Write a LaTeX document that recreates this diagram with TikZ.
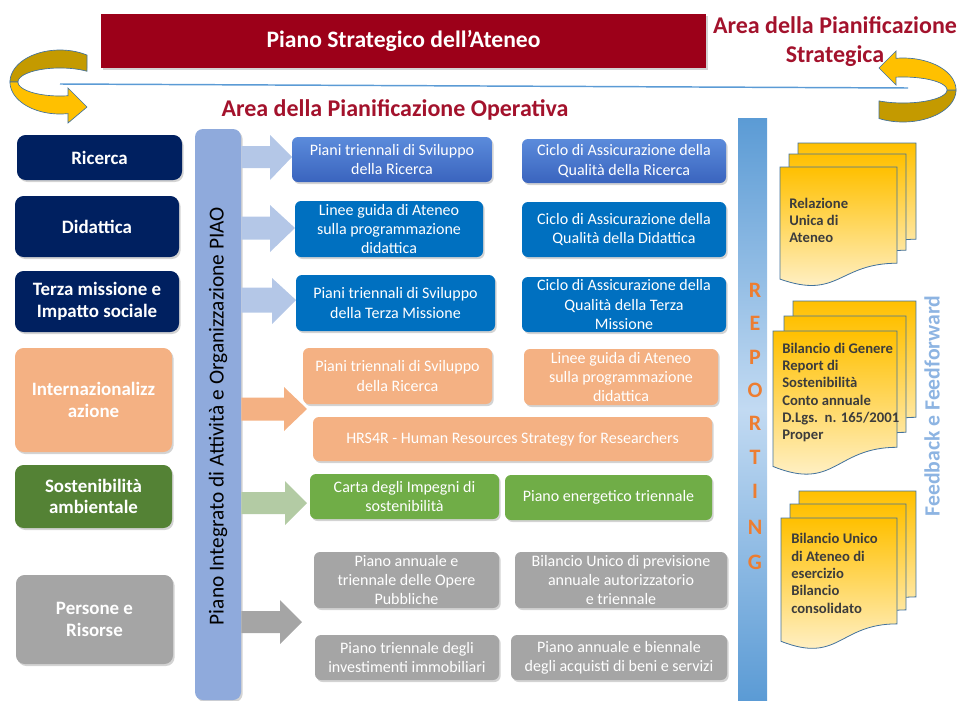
\documentclass[tikz,border=0pt]{standalone}
\usepackage{fontspec}
\setmainfont{Carlito}
\usetikzlibrary{shadows}
\definecolor{navyc}{HTML}{002060}
\definecolor{salmon}{HTML}{F4B183}
\definecolor{dgreen}{HTML}{548235}
\definecolor{lgreen}{HTML}{70AD47}
\definecolor{grayc}{HTML}{A5A5A5}
\definecolor{blue1t}{HTML}{5B8BDB}
\definecolor{blue1b}{HTML}{3A64BE}
\definecolor{blue2}{HTML}{0070C0}
\definecolor{piaoc}{HTML}{8FAADC}
\definecolor{arrblue}{HTML}{B4C7E7}
\definecolor{arrgreen}{HTML}{B3CBA4}
\definecolor{redbox}{HTML}{9C0019}
\definecolor{redtext}{HTML}{A3122C}
\definecolor{linec}{HTML}{5B9BD5}
\definecolor{goldb}{HTML}{FFC000}
\definecolor{goldd}{HTML}{C49A00}
\definecolor{outl}{HTML}{41719C}
\definecolor{repc}{HTML}{ED7D31}
\definecolor{repbar}{HTML}{5B9BD5}
\definecolor{repmid}{HTML}{C2DAF2}
\definecolor{fbc}{HTML}{8DB4E2}
\definecolor{doctext}{HTML}{3C3C3C}
\definecolor{docbot}{HTML}{FFF5DA}
\newcommand\rbox[7]{\node[#1, minimum width={(#5-#3)*0.75pt}, minimum height={(#6-#4)*0.75pt}] (#2) at ({(#3+#5)/2},{(#4+#6)/2}) {#7};}
\newcommand\barrow[7]{\fill[#1] (piao.east |- 0,{#2-#3}) -- (#6,{#2-#3}) -- (#6,#4) -- (#7,#2) -- (#6,#5) -- (#6,{#2+#3}) -- (piao.east |- 0,{#2+#3}) -- cycle;}
\newcommand\docsh[4]{\path[docstyle] (#1,#2) -- ({#1+#3},#2) -- ({#1+#3},{#2+0.802*#4}) .. controls ({#1+#3/2},{#2+0.802*#4}) and ({#1+#3/2},{#2+1.1075*#4}) .. (#1,{#2+0.934*#4}) -- cycle;}
\tikzset{
  base/.style={rounded corners=4.5pt, inner sep=0pt, align=center, text=white,
    drop shadow={opacity=0.35, shadow xshift=1.2pt, shadow yshift=-1.5pt}},
  lbox/.style={base, rounded corners=6.5pt, font=\bfseries\fontsize{14.2}{16.3}\selectfont},
  mbox/.style={base, font=\fontsize{12}{14.4}\selectfont},
  docstyle/.style={draw=outl, line width=0.6pt, top color=goldb, bottom color=docbot},
  doctxt/.style={anchor=west, align=left, inner sep=0pt, text=doctext, font=\bfseries\fontsize{11}{13}\selectfont},
  reptxt/.style={inner sep=0pt, text=repc, font=\bfseries\fontsize{16.5}{16.5}\selectfont},
  redtitle/.style={inner sep=0pt, align=center, text=redtext, font=\bfseries\fontsize{18}{21.75}\selectfont},
  arrowline/.style={draw=outl, line width=0.5pt},
}
\begin{document}
\begin{tikzpicture}[x=0.75pt,y=-0.75pt]
\useasboundingbox (0,0) rectangle (957,700);
% title
\rbox{base, rounded corners=0pt, fill=redbox, font=\bfseries\fontsize{17.7}{20}\selectfont}{title}{101}{14}{706}{68}{Piano Strategico dell’Ateneo}
\node[redtitle] (areastrat) at (835,42) {Area della Pianificazione\\Strategica};
% blue line
\coordinate (lineL) at (60,84);
\coordinate (lineR) at (908,88);
\draw[linec, line width=1.1pt] (lineL) -- (lineR);
\node[redtitle] (areaop) at (395,110) {Area della Pianificazione Operativa};
% left curved arrow
\path[arrowline, fill=goldd] plot[domain=-57.3:-180, samples=40] ({60+50*cos(\x)},{82+32*sin(\x)})
  -- plot[domain=-180:-50, samples=40] ({60+42*cos(\x)},{82+14*sin(\x)}) -- cycle;
\path[arrowline, fill=goldb] plot[domain=180:80.8, samples=40] ({60+50*cos(\x)},{82+32*sin(\x)})
  -- (68,123) -- (87,107) -- (68,88)
  -- plot[domain=79:180, samples=40] ({60+42*cos(\x)},{82+14*sin(\x)}) -- cycle;
% right curved arrow
\path[arrowline, fill=goldd] plot[domain=0:116.9, samples=40] ({903+53*cos(\x)},{90+32*sin(\x)})
  -- plot[domain=123:0, samples=40] ({903+44*cos(\x)},{90+13*sin(\x)}) -- cycle;
\path[arrowline, fill=goldb] plot[domain=0:-97.6, samples=40] ({903+53*cos(\x)},{90+32*sin(\x)})
  -- (896,51) -- (879,68) -- (896,85)
  -- plot[domain=-99.2:0, samples=40] ({903+44*cos(\x)},{90+13*sin(\x)}) -- cycle;
% left column
\rbox{lbox, fill=navyc}{ricerca}{17}{135}{182}{180}{Ricerca}
\rbox{lbox, fill=navyc}{didattica}{15}{196}{179}{257}{Didattica}
\rbox{lbox, fill=navyc}{terza}{15}{271}{179}{332}{Terza missione e\\Impatto sociale}
\rbox{lbox, fill=salmon}{intern}{15}{348}{172}{452}{Internazionalizz\\azione}
\rbox{lbox, fill=dgreen}{sost}{15}{465}{172}{528}{Sostenibilità\\ambientale}
\rbox{lbox, fill=grayc}{persone}{16}{575}{173}{664}{Persone e\\Risorse}
% PIAO bar
\rbox{base, rounded corners=6pt, fill=piaoc}{piao}{195}{129}{241}{700}{}
\node[rotate=90, inner sep=0pt, font=\fontsize{16}{16}\selectfont] (piaotext) at (218,416) {Piano Integrato di Attività e Organizzazione PIAO};
% block arrows
\barrow{arrblue}{157}{11}{135}{180}{270}{292}
\barrow{arrblue}{228}{11.5}{205}{252}{270}{295}
\barrow{arrblue}{300}{12.5}{278}{324}{272}{296}
\barrow{salmon}{409}{11.5}{387}{431}{284}{307}
\barrow{arrgreen}{503}{11}{481}{525}{285}{307}
\barrow{grayc}{622}{11}{600}{644}{280}{302}
% middle boxes
\rbox{mbox, top color=blue1t, bottom color=blue1b}{m1a}{292}{137}{492}{182}{Piani triennali di Sviluppo\\della Ricerca}
\rbox{mbox, top color=blue1t, bottom color=blue1b}{m1b}{522}{139}{726}{183}{Ciclo di Assicurazione della\\Qualità della Ricerca}
\rbox{mbox, fill=blue2}{m2a}{295}{201}{483}{257}{Linee guida di Ateneo\\sulla programmazione\\didattica}
\rbox{mbox, fill=blue2}{m2b}{522}{202}{726}{257}{Ciclo di Assicurazione della\\Qualità della Didattica}
\rbox{mbox, fill=blue2}{m3a}{296}{275}{495}{331}{Piani triennali di Sviluppo\\della Terza Missione}
\rbox{mbox, fill=blue2}{m3b}{522}{277}{726}{332}{Ciclo di Assicurazione della\\Qualità della Terza\\Missione}
\rbox{mbox, fill=salmon}{m4a}{303}{348}{492}{404}{Piani triennali di Sviluppo\\della Ricerca}
\rbox{mbox, fill=salmon}{m4b}{524}{349}{718}{405}{Linee guida di Ateneo\\sulla programmazione\\didattica}
\rbox{mbox, fill=salmon}{hrs}{313}{417}{712}{461}{HRS4R - Human Resources Strategy for Researchers}
\rbox{mbox, fill=lgreen}{m5a}{310}{474}{499}{519}{Carta degli Impegni di\\sostenibilità}
\rbox{mbox, fill=lgreen}{m5b}{505}{475}{712}{520}{Piano energetico triennale}
\rbox{mbox, fill=grayc}{m6a}{314}{552}{499}{608}{Piano annuale e\\triennale delle Opere\\Pubbliche}
\rbox{mbox, fill=grayc}{m6b}{515}{552}{727}{608}{Bilancio Unico di previsione\\annuale autorizzatorio\\e triennale}
\rbox{mbox, fill=grayc}{m7a}{315}{635}{499}{680}{Piano triennale degli\\investimenti immobiliari}
\rbox{mbox, fill=grayc}{m7b}{511}{635}{727}{680}{Piano annuale e biennale\\degli acquisti di beni e servizi}
% reporting bar
\node[inner sep=0pt, minimum width={29*0.75pt}, minimum height={582*0.75pt}, top color=repbar, bottom color=repbar, middle color=repmid] (rep) at (752.5,409) {};
\foreach \l/\yy [count=\i] in {R/290,E/323,P/357,O/390,R/423,T/457,I/491,N/527,G/562}
  \node[reptxt] (rep\i) at (755,\yy) {\l};
% documents
\docsh{798}{143}{118}{120}
\docsh{789}{154}{117}{120}
\docsh{780}{167}{117}{120}
\node[doctxt] (doc1) at (789,220.5) {Relazione\\Unica di\\Ateneo};
\docsh{793}{301}{123}{145}
\docsh{784}{316}{122}{145}
\docsh{773}{331}{124}{145}
\node[doctxt] (doc2) at (782,392.5) {Bilancio di Genere\\Report di\\Sostenibilità\\Conto annuale\\D.Lgs.~~n. 165/2001\\Proper};
\docsh{799}{491}{117}{132}
\docsh{790}{504}{116}{132}
\docsh{781}{518}{116}{132}
\node[doctxt] (doc3) at (791,573.5) {Bilancio Unico\\di Ateneo di\\esercizio\\Bilancio\\consolidato};
\node[rotate=90, inner sep=0pt, text=fbc, font=\bfseries\fontsize{16.3}{16}\selectfont] (fb) at (932,406) {Feedback e Feedforward};
\end{tikzpicture}
\end{document}
